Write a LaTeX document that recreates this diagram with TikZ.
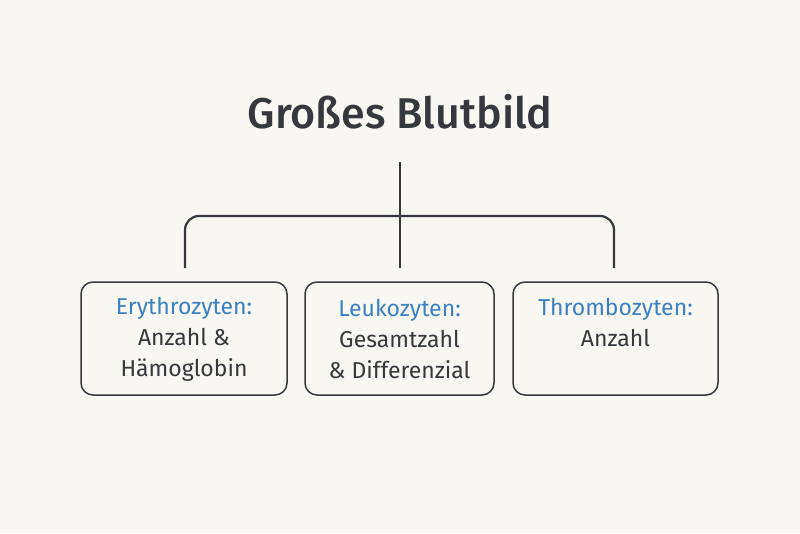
\documentclass[tikz,border=0pt]{standalone}
\usepackage{fontspec}
\setmainfont{Fira Sans}[BoldFont={Fira Sans Medium}]
\definecolor{bg}{HTML}{F9F7F2}
\definecolor{ink}{HTML}{35383D}
\definecolor{blu}{HTML}{3A80C2}
\begin{document}
\begin{tikzpicture}[x=1pt,y=-1pt,
  box/.style={draw=ink,line width=1.5pt,rounded corners=12pt,fill=bg,minimum height=113pt,inner sep=0pt},
  conn/.style={draw=ink,line width=2.2pt},
  lbl/.style={align=center,font=\fontsize{23}{31}\selectfont,text=ink}]
\fill[bg] (0,0) rectangle (800,533);
\useasboundingbox (0,0) rectangle (800,533);
\node[font=\fontsize{43}{46}\selectfont\bfseries,text=ink] (title) at (400,112) {Großes Blutbild};
\node[box,minimum width=206pt] (ery) at (184,338.5) {};
\node[box,minimum width=189pt] (leu) at (399.5,338.5) {};
\node[box,minimum width=205pt] (thr) at (615.5,338.5) {};
\node[lbl] (eryt) at (184,339) {\textcolor{blu}{Erythrozyten:}\\Anzahl \&\\Hämoglobin};
\node[lbl] (leut) at (399.5,339) {\textcolor{blu}{Leukozyten:}\\Gesamtzahl\\\& Differenzial};
\node[lbl,anchor=north] (thrt) at (615.5,295) {\textcolor{blu}{Thrombozyten:}\\Anzahl};
\coordinate (top) at (400,162);
\coordinate (mid) at (400,216);
\coordinate (e) at (185,268);
\coordinate (l) at (400,268);
\coordinate (t) at (614,268);
\draw[conn] (top) -- (l);
\draw[conn,rounded corners=14pt] (e) |- (mid) -| (t);
\end{tikzpicture}
\end{document}
